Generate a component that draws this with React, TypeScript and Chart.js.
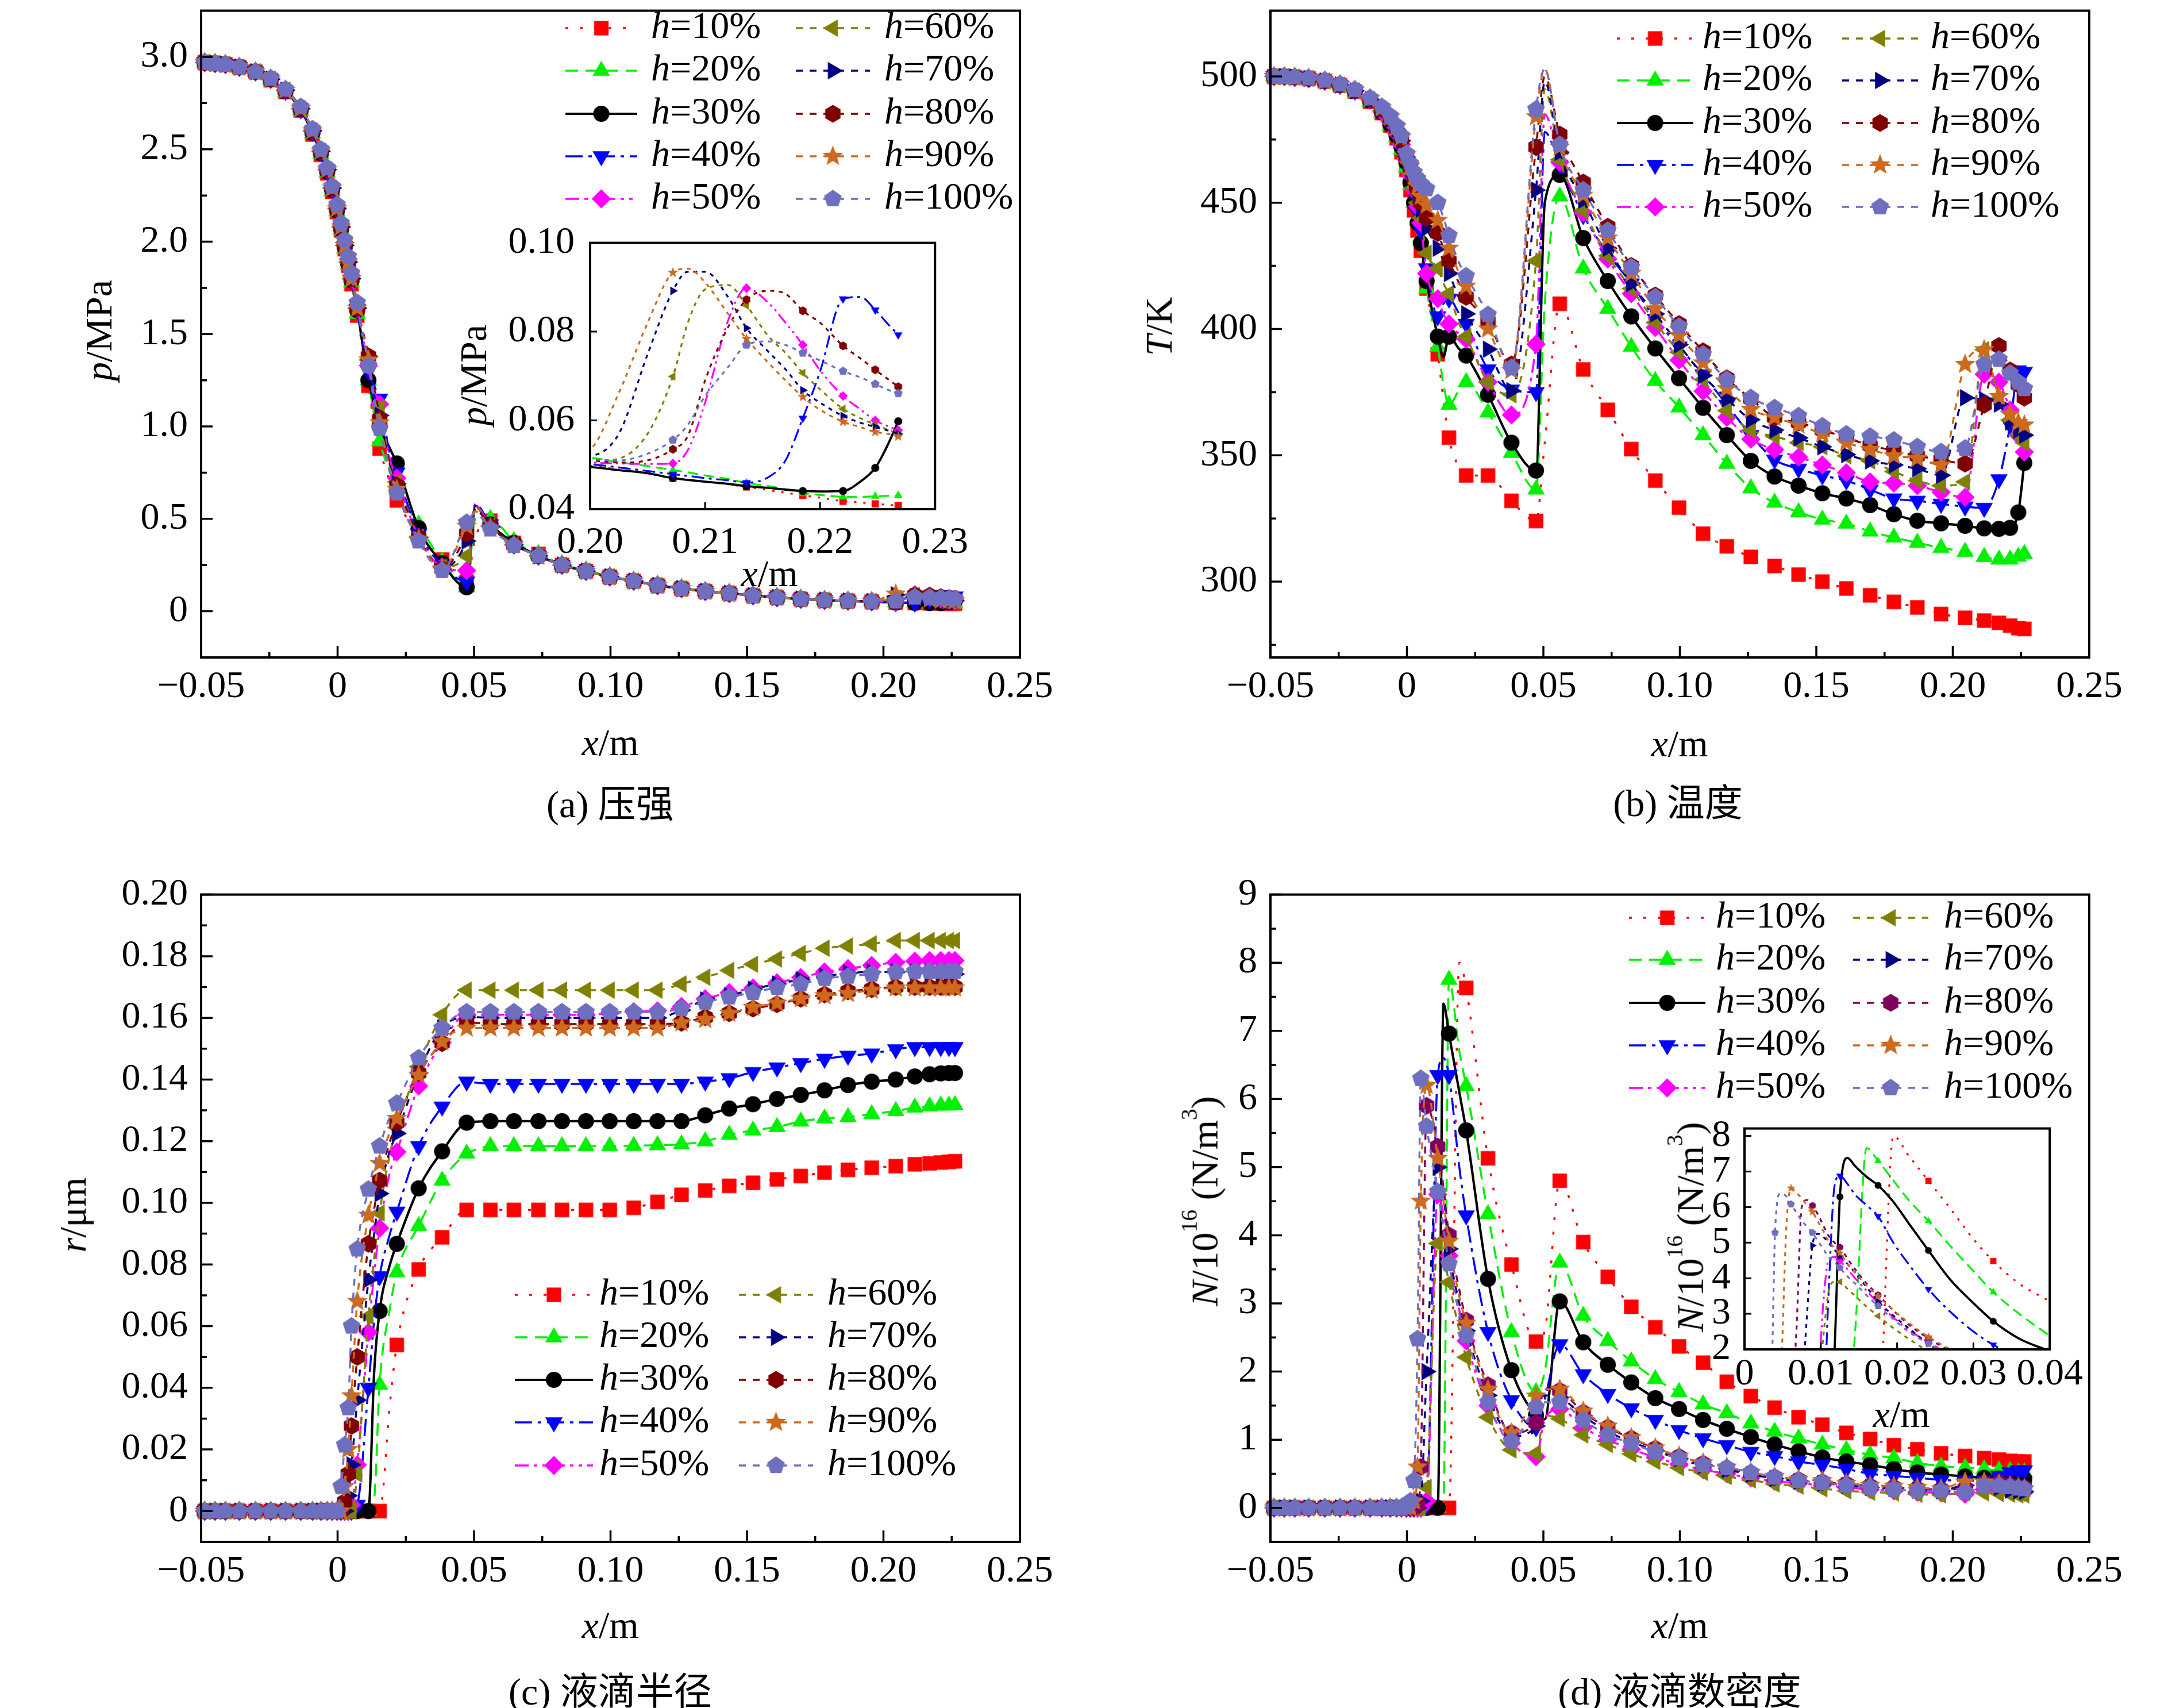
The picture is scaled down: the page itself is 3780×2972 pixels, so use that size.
import React, { useEffect, useRef } from 'react';
import { Chart, registerables } from 'chart.js';
Chart.register(...registerables);

const SERIF = '"Liberation Serif", "Times New Roman", serif';
const CAP_FONT = '"Liberation Serif", "Noto Sans CJK SC", serif';
const FS = 66;

// ---------------- series meta ----------------
const H_LABELS = ['10%', '20%', '30%', '40%', '50%', '60%', '70%', '80%', '90%', '100%'];
const COLORS = ['#ff0000', '#00f000', '#000000', '#0000ff', '#ff00ff', '#808000', '#000080', '#800000', '#cd6a1e', '#6f6fbf'];
const COLORS_D = ['#ff0000', '#00f000', '#000000', '#0000ff', '#ff00ff', '#808000', '#000080', '#800060', '#cd6a1e', '#6f6fbf'];
const SHAPES = ['square', 'triUp', 'circle', 'triDown', 'diamond', 'triLeft', 'triRight', 'hexagon', 'star', 'pentagon'];
const DASH_MAIN = [[5, 20], [22, 13], [], [30, 10, 6, 10], [24, 9, 6, 9, 6, 9], [12, 12], [12, 12], [12, 12], [12, 12], [12, 12]];
const DASH_INSET = [[4, 12], [18, 10], [], [22, 8, 5, 8], [20, 7, 4, 7, 4, 7], [7, 8], [7, 8], [7, 8], [7, 8], [7, 8]];

// ---------------- axes ----------------
const X_TICKS = [-0.05, 0, 0.05, 0.1, 0.15, 0.2, 0.25];
const X_TICK_LABELS = ['\u22120.05', '0', '0.05', '0.10', '0.15', '0.20', '0.25'];
const X_MINOR = [-0.025, 0.025, 0.075, 0.125, 0.175, 0.225];

const A_Y_TICKS = [0, 0.5, 1, 1.5, 2, 2.5, 3];
const A_Y_LABELS = ['0', '0.5', '1.0', '1.5', '2.0', '2.5', '3.0'];
const A_Y_MINOR = [0.25, 0.75, 1.25, 1.75, 2.25, 2.75];

const B_Y_TICKS = [300, 350, 400, 450, 500];
const B_Y_LABELS = ['300', '350', '400', '450', '500'];
const B_Y_MINOR = [275, 325, 375, 425, 475];

const C_Y_TICKS = [0, 0.02, 0.04, 0.06, 0.08, 0.1, 0.12, 0.14, 0.16, 0.18, 0.2];
const C_Y_LABELS = ['0', '0.02', '0.04', '0.06', '0.08', '0.10', '0.12', '0.14', '0.16', '0.18', '0.20'];
const C_Y_MINOR = [0.01, 0.03, 0.05, 0.07, 0.09, 0.11, 0.13, 0.15, 0.17, 0.19];

const D_Y_TICKS = [0, 1, 2, 3, 4, 5, 6, 7, 8, 9];
const D_Y_LABELS = ['0', '1', '2', '3', '4', '5', '6', '7', '8', '9'];
const D_Y_MINOR = [0.5, 1.5, 2.5, 3.5, 4.5, 5.5, 6.5, 7.5, 8.5];

const IA_X_TICKS = [0.2, 0.21, 0.22, 0.23];
const IA_X_LABELS = ['0.20', '0.21', '0.22', '0.23'];
const IA_Y_TICKS = [0.04, 0.06, 0.08, 0.1];
const IA_Y_LABELS = ['0.04', '0.06', '0.08', '0.10'];

const ID_X_TICKS = [0, 0.01, 0.02, 0.03, 0.04];
const ID_X_LABELS = ['0', '0.01', '0.02', '0.03', '0.04'];
const ID_Y_TICKS = [2, 3, 4, 5, 6, 7, 8];
const ID_Y_LABELS = ['2', '3', '4', '5', '6', '7', '8'];

// ---------------- main x grid (shared by panels a-d) ----------------
const GX = [
  -0.0487, -0.0449, -0.0411, -0.036, -0.0301, -0.0245, -0.0191, -0.0135, -0.0092, -0.0061,
  -0.0038, -0.002, -0.0002, 0.0013, 0.0026, 0.0039, 0.0051, 0.0072, 0.0113, 0.0134,
  0.0154, 0.0192, 0.0217, 0.0297, 0.0383, 0.0473, 0.0505, 0.056, 0.0646, 0.0736,
  0.0822, 0.091, 0.0997, 0.1085, 0.1172, 0.126, 0.1347, 0.1435, 0.1522, 0.161,
  0.1697, 0.1784, 0.187, 0.1957, 0.2045, 0.2115, 0.2169, 0.221, 0.224, 0.2262,
];
const MAIN_UNMARKED = [19, 21, 26];

// ---------------- (a) pressure, MPa ----------------
const A_10 = [2.97, 2.965, 2.96, 2.945, 2.92, 2.875, 2.81, 2.71, 2.58, 2.47, 2.37, 2.27, 2.16, 2.06, 1.96, 1.87, 1.77, 1.60, 1.22, 1.02, 0.88, 0.70, 0.60, 0.42, 0.28, 0.16, 0.40, 0.49, 0.37, 0.31, 0.25, 0.217, 0.187, 0.164, 0.14, 0.123, 0.108, 0.097, 0.085, 0.075, 0.066, 0.06, 0.056, 0.053, 0.047, 0.045, 0.0431, 0.0418, 0.0412, 0.0408];
const A_20 = [2.97, 2.965, 2.96, 2.945, 2.92, 2.875, 2.81, 2.71, 2.585, 2.475, 2.375, 2.275, 2.165, 2.065, 1.965, 1.875, 1.78, 1.61, 1.25, 1.06, 0.92, 0.75, 0.66, 0.47, 0.27, 0.13, 0.50, 0.50, 0.38, 0.31, 0.255, 0.22, 0.19, 0.165, 0.142, 0.124, 0.109, 0.098, 0.086, 0.076, 0.067, 0.061, 0.057, 0.054, 0.0488, 0.0459, 0.0436, 0.0428, 0.0429, 0.0431];
const A_30 = [2.97, 2.965, 2.96, 2.945, 2.92, 2.88, 2.815, 2.715, 2.59, 2.48, 2.38, 2.28, 2.17, 2.07, 1.97, 1.88, 1.79, 1.63, 1.25, 1.12, 1.0, 0.88, 0.80, 0.45, 0.26, 0.13, 0.57, 0.47, 0.37, 0.30, 0.25, 0.217, 0.187, 0.164, 0.14, 0.123, 0.108, 0.097, 0.085, 0.075, 0.066, 0.06, 0.055, 0.052, 0.047, 0.0452, 0.0441, 0.0441, 0.0493, 0.0598];
const A_40 = [2.97, 2.965, 2.96, 2.945, 2.92, 2.88, 2.815, 2.715, 2.595, 2.485, 2.385, 2.285, 2.175, 2.075, 1.975, 1.885, 1.795, 1.635, 1.30, 1.22, 1.15, 0.85, 0.75, 0.42, 0.25, 0.16, 0.58, 0.47, 0.36, 0.30, 0.25, 0.217, 0.187, 0.164, 0.14, 0.123, 0.108, 0.097, 0.085, 0.075, 0.066, 0.06, 0.056, 0.052, 0.0479, 0.046, 0.0605, 0.0874, 0.0849, 0.0793];
const A_50 = [2.97, 2.965, 2.96, 2.945, 2.92, 2.88, 2.82, 2.72, 2.60, 2.49, 2.39, 2.29, 2.18, 2.08, 1.98, 1.89, 1.80, 1.64, 1.33, 1.2, 1.12, 0.82, 0.72, 0.40, 0.24, 0.22, 0.57, 0.46, 0.36, 0.30, 0.25, 0.217, 0.187, 0.164, 0.14, 0.123, 0.108, 0.097, 0.085, 0.075, 0.066, 0.06, 0.056, 0.053, 0.0503, 0.0898, 0.077, 0.0655, 0.06, 0.0578];
const A_60 = [2.97, 2.965, 2.96, 2.945, 2.92, 2.88, 2.82, 2.72, 2.60, 2.49, 2.39, 2.29, 2.18, 2.08, 1.98, 1.89, 1.80, 1.64, 1.36, 1.2, 1.1, 0.80, 0.70, 0.40, 0.24, 0.30, 0.56, 0.46, 0.36, 0.30, 0.25, 0.217, 0.187, 0.164, 0.14, 0.123, 0.108, 0.097, 0.085, 0.075, 0.066, 0.06, 0.056, 0.053, 0.0699, 0.0859, 0.0707, 0.0626, 0.0591, 0.057];
const A_70 = [2.97, 2.965, 2.96, 2.945, 2.92, 2.88, 2.82, 2.72, 2.60, 2.49, 2.39, 2.29, 2.18, 2.08, 1.98, 1.89, 1.80, 1.64, 1.38, 1.2, 1.06, 0.79, 0.69, 0.40, 0.23, 0.38, 0.55, 0.46, 0.36, 0.30, 0.25, 0.217, 0.187, 0.164, 0.14, 0.123, 0.108, 0.097, 0.085, 0.075, 0.066, 0.06, 0.056, 0.053, 0.0892, 0.0808, 0.0668, 0.061, 0.0585, 0.057];
const A_80 = [2.97, 2.965, 2.96, 2.945, 2.92, 2.88, 2.82, 2.72, 2.60, 2.49, 2.39, 2.29, 2.18, 2.08, 1.98, 1.89, 1.80, 1.64, 1.38, 1.18, 1.04, 0.78, 0.68, 0.40, 0.23, 0.42, 0.55, 0.46, 0.36, 0.30, 0.25, 0.217, 0.187, 0.164, 0.14, 0.123, 0.108, 0.097, 0.085, 0.075, 0.066, 0.06, 0.056, 0.053, 0.0535, 0.0872, 0.0847, 0.0768, 0.0714, 0.0676];
const A_90 = [2.97, 2.965, 2.96, 2.945, 2.92, 2.88, 2.82, 2.72, 2.60, 2.49, 2.39, 2.29, 2.18, 2.08, 1.98, 1.89, 1.80, 1.64, 1.36, 1.16, 1.02, 0.77, 0.66, 0.39, 0.23, 0.46, 0.54, 0.45, 0.36, 0.30, 0.25, 0.217, 0.187, 0.164, 0.14, 0.123, 0.108, 0.097, 0.085, 0.075, 0.066, 0.06, 0.056, 0.053, 0.0933, 0.0784, 0.0653, 0.0597, 0.0574, 0.0564];
const A_100 = [2.97, 2.965, 2.96, 2.945, 2.92, 2.885, 2.825, 2.73, 2.61, 2.50, 2.40, 2.30, 2.20, 2.10, 2.01, 1.92, 1.83, 1.67, 1.33, 1.13, 0.99, 0.75, 0.64, 0.38, 0.22, 0.48, 0.53, 0.445, 0.357, 0.30, 0.25, 0.217, 0.187, 0.164, 0.14, 0.123, 0.108, 0.097, 0.085, 0.075, 0.066, 0.06, 0.056, 0.053, 0.0556, 0.077, 0.0752, 0.0711, 0.0682, 0.0661];

// ---------------- (a) inset ----------------
const IA_X = [0.196, 0.2, 0.2025, 0.205, 0.2072, 0.2085, 0.21, 0.212, 0.2136, 0.2155, 0.217, 0.2185, 0.22, 0.222, 0.2235, 0.2248, 0.2258, 0.2268];
const IA_MARKS = [4, 8, 11, 13, 15, 17];
const IA_10 = [0.0502, 0.0498, 0.0489, 0.048, 0.047, 0.0466, 0.0462, 0.0456, 0.045, 0.0443, 0.0437, 0.0431, 0.0426, 0.0418, 0.0415, 0.0412, 0.041, 0.0408];
const IA_20 = [0.052, 0.0516, 0.0506, 0.0497, 0.0488, 0.0483, 0.0476, 0.0468, 0.0459, 0.0452, 0.0445, 0.0436, 0.0432, 0.0428, 0.0428, 0.0429, 0.043, 0.0431];
const IA_30 = [0.0498, 0.0495, 0.0488, 0.0481, 0.047, 0.0466, 0.0462, 0.0457, 0.0452, 0.0448, 0.0444, 0.0441, 0.044, 0.0441, 0.0462, 0.0493, 0.054, 0.0598];
const IA_40 = [0.0503, 0.0501, 0.0494, 0.0486, 0.0479, 0.0475, 0.047, 0.0465, 0.046, 0.0472, 0.051, 0.0605, 0.071, 0.0874, 0.0878, 0.0849, 0.082, 0.0793];
const IA_50 = [0.0508, 0.0505, 0.0503, 0.0502, 0.0503, 0.0533, 0.064, 0.0825, 0.0898, 0.0865, 0.082, 0.077, 0.0713, 0.0655, 0.0625, 0.06, 0.0588, 0.0578];
const IA_60 = [0.0508, 0.0508, 0.0514, 0.057, 0.0699, 0.082, 0.0895, 0.0905, 0.0859, 0.079, 0.0752, 0.0707, 0.067, 0.0626, 0.0605, 0.0591, 0.058, 0.057];
const IA_70 = [0.0515, 0.052, 0.057, 0.0749, 0.0892, 0.0935, 0.0935, 0.0878, 0.0808, 0.0755, 0.0715, 0.0668, 0.064, 0.061, 0.0595, 0.0585, 0.0578, 0.057];
const IA_80 = [0.051, 0.051, 0.0505, 0.051, 0.0535, 0.0565, 0.069, 0.081, 0.0872, 0.0892, 0.0885, 0.0847, 0.082, 0.0768, 0.074, 0.0714, 0.0695, 0.0676];
const IA_90 = [0.051, 0.0535, 0.0662, 0.082, 0.0933, 0.0942, 0.0911, 0.084, 0.0784, 0.073, 0.069, 0.0653, 0.0624, 0.0597, 0.0585, 0.0574, 0.057, 0.0564];
const IA_100 = [0.0512, 0.0512, 0.051, 0.0525, 0.0556, 0.059, 0.0655, 0.072, 0.077, 0.0778, 0.077, 0.0752, 0.0735, 0.0711, 0.0697, 0.0682, 0.067, 0.0661];

// ---------------- (b) temperature, K ----------------
const B_10 = [500, 500, 499.7, 499.2, 498.2, 496.5, 494, 490, 485.5, 480.5, 475.5, 470, 463, 455, 447, 439, 431, 416, 390, 372, 357, 345, 342, 342, 332, 324, 355, 410, 384, 368, 352.5, 340, 329.3, 319, 314, 309.8, 306.2, 302.8, 300, 297.3, 294.6, 292, 289.8, 287.2, 285.7, 284.6, 283.7, 282.6, 281.6, 281.3];
const B_20 = [500, 500, 499.7, 499.2, 498.2, 496.5, 494, 490, 485.5, 480.5, 476, 471, 464, 457, 450, 443, 436, 416, 393, 378, 370, 376, 379, 367, 351, 336.5, 410, 452.5, 424, 408, 393, 379.5, 369, 358, 346.7, 337, 331.3, 327.5, 324.6, 323, 319.9, 317.5, 315.4, 313.4, 311.8, 309.8, 308.8, 308.8, 309.9, 311];
const B_30 = [500, 500, 499.7, 499.2, 498.2, 496.6, 494.2, 490.5, 485.8, 481, 476.5, 472, 466, 458, 450, 442, 434, 419, 397, 389, 397, 392, 389.5, 374, 355, 344, 450, 461, 436, 419, 405, 392.3, 380.5, 368.8, 358, 347.8, 341.6, 338, 335, 332.9, 330.3, 326.7, 324.1, 323.1, 322.1, 321.1, 320.9, 321.3, 327.4, 347];
const B_40 = [500, 500, 499.7, 499.2, 498.2, 496.6, 494.3, 490.8, 486, 481.5, 477, 472.5, 466.5, 460, 453.5, 446, 439, 424, 405, 410, 412, 406, 402, 384, 376, 375, 478, 465, 445, 430, 418, 404, 393, 382, 370, 358, 348.3, 344.7, 342, 340, 336.4, 332.9, 332, 330.8, 329.7, 329.2, 340.5, 362, 383.6, 383];
const B_50 = [500, 500, 499.7, 499.2, 498.2, 496.6, 494.3, 490.8, 486, 482, 477.5, 473, 467, 461, 455, 448.5, 442, 422, 412, 406, 402, 398, 396, 379, 366, 394, 485, 466, 446, 427.7, 414, 400.6, 387.7, 375.4, 365, 356.4, 352.3, 349.3, 346.2, 343.1, 339.5, 339, 338, 335.4, 333.4, 382.1, 379, 368, 358, 351.3];
const B_60 = [500, 500, 499.7, 499.2, 498.2, 496.6, 494.3, 490.8, 486.5, 482.5, 478, 473.5, 467.5, 462, 456, 450, 444, 430, 424, 418, 414, 402, 397, 379, 374, 427, 495, 467, 447, 429, 416, 402.6, 390.8, 380, 367.7, 360, 357.5, 355, 353.4, 349.8, 347.8, 343.6, 340, 338, 339.5, 391.8, 372.4, 364, 358, 355];
const B_70 = [500, 500, 499.7, 499.2, 498.2, 496.6, 494.3, 490.8, 487, 483, 479, 474.5, 468, 463, 458, 453, 447.5, 440, 432, 427, 422, 412, 406, 392, 375.6, 455, 498, 470, 451, 432, 418, 406, 393.8, 381.6, 372.4, 364.1, 360, 356.9, 353.4, 350.3, 347.8, 346.2, 344.7, 342.1, 372.8, 372, 370.3, 363.2, 360, 358];
const B_80 = [500, 500, 499.7, 499.2, 498.2, 496.7, 494.5, 491, 487, 483.5, 479.5, 475, 468.5, 464, 459.5, 455, 450, 444, 438, 432, 427, 418, 412.7, 403, 386, 472, 500, 477, 458, 440.5, 425, 413.3, 402, 391.2, 380.5, 372.4, 365, 363, 360, 357, 353.9, 351.9, 349.8, 348.3, 346.7, 370, 393.3, 383.6, 378, 372.8];
const B_90 = [500, 500, 499.7, 499.2, 498.2, 496.8, 494.6, 491.2, 487.5, 484, 480, 476, 469, 464.5, 460.5, 456.5, 452.5, 449, 443, 438, 432, 422, 417, 400, 383.6, 484, 503, 472, 453, 436, 422, 408, 397.4, 386.6, 376.4, 368.2, 365, 362, 358.5, 355, 352.3, 349.8, 348.8, 346.2, 386, 391.8, 373.3, 366.2, 363, 362];
const B_100 = [500, 500, 499.8, 499.4, 498.5, 497, 494.8, 491.5, 488, 484.4, 480.5, 476.5, 469.5, 465.5, 462, 459.5, 457.5, 455.5, 450, 444, 437, 426, 421, 405.7, 384.7, 487, 503, 473, 455, 439, 424.5, 412.7, 401, 390, 380, 372.8, 368.8, 365.6, 361.6, 358.4, 357.5, 356, 353.4, 351.4, 352.8, 386, 388, 382.5, 379, 376.4];

// ---------------- (c) droplet radius, um ----------------
const C_10 = [0, 0, 0, 0, 0, 0, 0, 0, 0, 0, 0, 0, 0, 0, 0, 0, 0, 0, 0, 0, 0, 0.035, 0.0539, 0.0784, 0.0888, 0.0977, 0.0977, 0.0977, 0.0977, 0.0977, 0.0977, 0.0977, 0.0977, 0.0984, 0.1003, 0.1026, 0.104, 0.1055, 0.1065, 0.1076, 0.1087, 0.1098, 0.1107, 0.1114, 0.1119, 0.1125, 0.1128, 0.1131, 0.1133, 0.1135];
const C_20 = [0, 0, 0, 0, 0, 0, 0, 0, 0, 0, 0, 0, 0, 0, 0, 0, 0, 0, 0, 0.004, 0.041, 0.066, 0.0775, 0.0925, 0.1072, 0.116, 0.1172, 0.1184, 0.1184, 0.1184, 0.1184, 0.1184, 0.1184, 0.1185, 0.1187, 0.119, 0.12, 0.1221, 0.1235, 0.1246, 0.1264, 0.1274, 0.1278, 0.1288, 0.1298, 0.1309, 0.1313, 0.1316, 0.1316, 0.1317];
const C_30 = [0, 0, 0, 0, 0, 0, 0, 0, 0, 0, 0, 0, 0, 0, 0, 0, 0, 0, 0, 0.045, 0.0649, 0.08, 0.0867, 0.1047, 0.1167, 0.126, 0.1263, 0.1265, 0.1265, 0.1265, 0.1265, 0.1265, 0.1265, 0.1265, 0.1265, 0.1265, 0.1284, 0.1306, 0.132, 0.1337, 0.135, 0.1365, 0.1382, 0.1393, 0.14, 0.141, 0.1417, 0.142, 0.1421, 0.1421];
const C_40 = [0, 0, 0, 0, 0, 0, 0, 0, 0, 0, 0, 0, 0, 0, 0, 0, 0, 0.002, 0.04, 0.062, 0.0762, 0.09, 0.0971, 0.1184, 0.1312, 0.1393, 0.139, 0.1386, 0.1386, 0.1386, 0.1386, 0.1386, 0.1386, 0.1386, 0.1386, 0.1386, 0.1393, 0.1404, 0.1424, 0.1439, 0.1453, 0.1467, 0.1477, 0.1484, 0.1498, 0.1505, 0.1505, 0.1505, 0.1505, 0.1505];
const C_50 = [0, 0, 0, 0, 0, 0, 0, 0, 0, 0, 0, 0, 0, 0, 0, 0, 0.002, 0.015, 0.058, 0.077, 0.0918, 0.11, 0.1165, 0.1379, 0.152, 0.161, 0.161, 0.161, 0.161, 0.161, 0.161, 0.161, 0.1615, 0.162, 0.1623, 0.1637, 0.1662, 0.1682, 0.1697, 0.1714, 0.1731, 0.1749, 0.176, 0.177, 0.178, 0.1784, 0.1786, 0.1786, 0.1786, 0.1786];
const C_60 = [0, 0, 0, 0, 0, 0, 0, 0, 0, 0, 0, 0, 0, 0, 0, 0, 0, 0.012, 0.0632, 0.082, 0.0967, 0.116, 0.1244, 0.1442, 0.161, 0.169, 0.169, 0.169, 0.169, 0.169, 0.169, 0.169, 0.169, 0.169, 0.169, 0.171, 0.1732, 0.1754, 0.1774, 0.1791, 0.1809, 0.1826, 0.1833, 0.184, 0.1851, 0.1851, 0.1851, 0.1851, 0.1851, 0.1851];
const C_70 = [0, 0, 0, 0, 0, 0, 0, 0, 0, 0, 0, 0, 0, 0, 0, 0.005, 0.015, 0.036, 0.0751, 0.09, 0.103, 0.117, 0.1225, 0.1421, 0.1567, 0.1602, 0.1602, 0.16, 0.16, 0.16, 0.16, 0.16, 0.16, 0.16, 0.16, 0.1625, 0.1658, 0.1672, 0.1693, 0.171, 0.1724, 0.1735, 0.1745, 0.1749, 0.1749, 0.1748, 0.1746, 0.1744, 0.1743, 0.1742];
const C_80 = [0, 0, 0, 0, 0, 0, 0, 0, 0, 0, 0, 0, 0, 0, 0.003, 0.012, 0.0276, 0.05, 0.0867, 0.098, 0.1072, 0.12, 0.126, 0.1421, 0.1518, 0.1584, 0.1584, 0.158, 0.158, 0.158, 0.158, 0.158, 0.158, 0.158, 0.158, 0.1584, 0.1602, 0.1615, 0.163, 0.1644, 0.1662, 0.1676, 0.1686, 0.1693, 0.17, 0.17, 0.17, 0.17, 0.17, 0.17];
const C_90 = [0, 0, 0, 0, 0, 0, 0, 0, 0, 0, 0, 0, 0, 0, 0.008, 0.02, 0.0374, 0.068, 0.096, 0.105, 0.1128, 0.123, 0.1274, 0.1414, 0.1523, 0.1567, 0.1567, 0.1567, 0.1567, 0.1567, 0.1567, 0.1567, 0.1567, 0.1567, 0.1567, 0.1584, 0.1595, 0.1615, 0.1634, 0.1648, 0.1662, 0.1672, 0.1679, 0.169, 0.1697, 0.1697, 0.1697, 0.1697, 0.1697, 0.1697];
const C_100 = [0, 0, 0, 0, 0, 0, 0, 0, 0, 0, 0, 0, 0, 0.008, 0.0214, 0.0335, 0.06, 0.085, 0.1044, 0.112, 0.1184, 0.128, 0.1323, 0.147, 0.1567, 0.1619, 0.1619, 0.1619, 0.1619, 0.1619, 0.1619, 0.1619, 0.1619, 0.1619, 0.1619, 0.163, 0.1651, 0.1668, 0.1682, 0.1699, 0.171, 0.1728, 0.1735, 0.1742, 0.1749, 0.1751, 0.1751, 0.1751, 0.1751, 0.1751];

// ---------------- (d) droplet number density, 1e16 ----------------
const D_10 = [0, 0, 0, 0, 0, 0, 0, 0, 0, 0, 0, 0, 0, 0, 0, 0, 0, 0, 0, 0, 0, 8.0, 7.63, 5.13, 3.57, 2.44, 2.6, 4.8, 3.9, 3.39, 2.95, 2.65, 2.37, 2.13, 1.85, 1.64, 1.47, 1.33, 1.22, 1.1, 1.01, 0.92, 0.86, 0.8, 0.76, 0.73, 0.71, 0.69, 0.68, 0.68];
const D_20 = [0, 0, 0, 0, 0, 0, 0, 0, 0, 0, 0, 0, 0, 0, 0, 0, 0, 0, 0, 0.1, 7.75, 6.7, 6.19, 4.31, 2.58, 1.7, 2.0, 3.6, 2.82, 2.45, 2.15, 1.89, 1.7, 1.52, 1.39, 1.24, 1.12, 1.02, 0.93, 0.85, 0.78, 0.73, 0.66, 0.61, 0.59, 0.57, 0.55, 0.54, 0.52, 0.52];
const D_30 = [0, 0, 0, 0, 0, 0, 0, 0, 0, 0, 0, 0, 0, 0, 0, 0, 0, 0, 0, 7.4, 6.96, 6.1, 5.54, 3.36, 2.02, 1.36, 1.3, 3.03, 2.43, 2.1, 1.84, 1.61, 1.45, 1.29, 1.16, 1.04, 0.93, 0.83, 0.74, 0.68, 0.63, 0.57, 0.52, 0.49, 0.46, 0.44, 0.43, 0.42, 0.42, 0.42];
const D_40 = [0, 0, 0, 0, 0, 0, 0, 0, 0, 0, 0, 0, 0, 0, 0, 0, 0, 0.05, 6.35, 6.6, 6.35, 5.0, 4.29, 2.58, 1.58, 1.18, 1.6, 2.4, 1.96, 1.67, 1.46, 1.29, 1.14, 1.02, 0.92, 0.82, 0.76, 0.68, 0.63, 0.57, 0.5, 0.47, 0.44, 0.41, 0.4, 0.4, 0.47, 0.52, 0.55, 0.55];
const D_50 = [0, 0, 0, 0, 0, 0, 0, 0, 0, 0, 0, 0, 0, 0, 0, 0, 0, 0.1, 4.6, 4.3, 3.7, 2.9, 2.45, 1.5, 0.95, 0.75, 1.3, 1.45, 1.18, 1.0, 0.86, 0.74, 0.64, 0.56, 0.5, 0.44, 0.39, 0.36, 0.33, 0.3, 0.27, 0.25, 0.23, 0.22, 0.2, 0.27, 0.28, 0.26, 0.24, 0.23];
const D_60 = [0, 0, 0, 0, 0, 0, 0, 0, 0, 0, 0, 0, 0, 0, 0, 0, 0, 0.3, 3.88, 3.7, 3.31, 2.6, 2.21, 1.33, 0.85, 0.8, 1.35, 1.31, 1.07, 0.93, 0.79, 0.68, 0.59, 0.52, 0.46, 0.41, 0.35, 0.32, 0.28, 0.25, 0.23, 0.22, 0.2, 0.19, 0.22, 0.22, 0.21, 0.2, 0.19, 0.19];
const D_70 = [0, 0, 0, 0, 0, 0, 0, 0, 0, 0, 0, 0, 0, 0, 0, 0, 0.1, 2.0, 5.0, 4.6, 3.8, 3.0, 2.6, 1.65, 1.05, 1.2, 1.65, 1.62, 1.35, 1.12, 0.97, 0.84, 0.72, 0.62, 0.56, 0.49, 0.43, 0.39, 0.36, 0.33, 0.3, 0.28, 0.26, 0.25, 0.33, 0.33, 0.3, 0.26, 0.25, 0.24];
const D_80 = [0, 0, 0, 0, 0, 0, 0, 0, 0, 0, 0, 0, 0, 0, 0, 0.05, 0.6, 5.9, 5.3, 4.7, 4.0, 3.2, 2.75, 1.8, 1.1, 1.25, 1.75, 1.72, 1.4, 1.18, 1.02, 0.87, 0.75, 0.65, 0.58, 0.51, 0.45, 0.41, 0.38, 0.35, 0.32, 0.3, 0.28, 0.27, 0.28, 0.36, 0.37, 0.34, 0.31, 0.3];
const D_90 = [0, 0, 0, 0, 0, 0, 0, 0, 0, 0, 0, 0, 0, 0, 0.1, 0.6, 4.5, 6.2, 5.13, 4.5, 3.91, 3.1, 2.71, 1.74, 1.1, 1.64, 1.74, 1.74, 1.42, 1.2, 1.03, 0.88, 0.76, 0.66, 0.6, 0.52, 0.46, 0.42, 0.4, 0.36, 0.33, 0.32, 0.3, 0.28, 0.38, 0.38, 0.35, 0.32, 0.3, 0.28];
const D_100 = [0, 0, 0, 0, 0, 0, 0, 0, 0, 0, 0, 0, 0.02, 0.1, 0.4, 2.48, 6.3, 5.6, 4.64, 4.1, 3.58, 2.85, 2.53, 1.55, 0.98, 1.48, 1.55, 1.55, 1.29, 1.07, 0.95, 0.82, 0.73, 0.63, 0.59, 0.52, 0.45, 0.4, 0.37, 0.33, 0.3, 0.27, 0.25, 0.25, 0.23, 0.32, 0.33, 0.31, 0.29, 0.28];

// ---------------- (d) inset ----------------
const ID_X = [0, 0.0025, 0.0035, 0.004, 0.0047, 0.0055, 0.0061, 0.0068, 0.0075, 0.0082, 0.0089, 0.0096, 0.0104, 0.011, 0.0118, 0.0125, 0.0135, 0.0145, 0.016, 0.0175, 0.0195, 0.0215, 0.0241, 0.027, 0.03, 0.0326, 0.036, 0.04];
const ID_MARKS = [3, 6, 10, 15, 19, 22, 25];
const ID_10 = [0, 0, 0, 0, 0, 0, 0, 0, 0, 0, 0, 0, 0, 0, 0, 0, 0, 0, 0, 0, 8.0, 7.45, 6.74, 5.95, 5.1, 4.48, 3.85, 3.35];
const ID_20 = [0, 0, 0, 0, 0, 0, 0, 0, 0, 0, 0, 0, 0, 0, 0, 0, 0, 2.5, 7.66, 7.3, 6.75, 6.2, 5.61, 4.9, 4.2, 3.61, 3.0, 2.38];
const ID_30 = [0, 0, 0, 0, 0, 0, 0, 0, 0, 0, 0, 0, 0, 0.2, 2.0, 6.29, 7.38, 7.15, 6.85, 6.61, 6.15, 5.55, 4.78, 3.95, 3.3, 2.79, 2.3, 1.95];
const ID_40 = [0, 0, 0, 0, 0, 0, 0, 0, 0.05, 0.05, 0.1, 0.1, 0.5, 3.5, 6.6, 6.88, 6.65, 6.35, 6.05, 5.74, 5.0, 4.4, 3.69, 3.05, 2.5, 2.13, 1.75, 1.45];
const ID_50 = [0, 0, 0, 0, 0, 0, 0.05, 0.1, 0.1, 0.15, 0.2, 1.0, 3.5, 4.5, 4.6, 4.49, 4.25, 4.0, 3.65, 3.3, 2.9, 2.55, 2.2, 1.85, 1.6, 1.4, 1.2, 1.05];
const ID_60 = [0, 0, 0, 0, 0, 0, 0.05, 0.1, 0.1, 0.2, 0.3, 0.8, 2.5, 3.6, 3.9, 3.9, 3.7, 3.5, 3.2, 2.94, 2.6, 2.3, 1.95, 1.65, 1.4, 1.25, 1.1, 0.95];
const ID_70 = [0, 0, 0, 0, 0.05, 0.1, 0.2, 0.3, 0.8, 3.0, 4.92, 5.25, 5.15, 5.0, 4.8, 4.62, 4.4, 4.15, 3.75, 3.35, 2.95, 2.6, 2.16, 1.8, 1.55, 1.35, 1.15, 1.0];
const ID_80 = [0, 0, 0, 0.05, 0.1, 0.2, 0.5, 2.5, 6.0, 6.2, 6.04, 5.8, 5.45, 5.2, 5.0, 4.87, 4.55, 4.25, 3.85, 3.53, 3.1, 2.7, 2.31, 1.95, 1.65, 1.45, 1.25, 1.05];
const ID_90 = [0, 0.05, 0.1, 0.3, 1.0, 5.5, 6.53, 6.4, 6.25, 6.05, 5.87, 5.6, 5.3, 5.05, 4.85, 4.71, 4.4, 4.15, 3.8, 3.5, 3.1, 2.75, 2.35, 2.0, 1.7, 1.5, 1.3, 1.1];
const ID_100 = [0, 0.1, 1.0, 5.28, 6.38, 6.3, 6.08, 5.85, 5.62, 5.45, 5.28, 5.05, 4.8, 4.6, 4.45, 4.29, 4.05, 3.85, 3.52, 3.22, 2.85, 2.5, 2.16, 1.85, 1.6, 1.4, 1.2, 1.05];

// ---------------- types ----------------
type Axis = { min: number; max: number; ticks: number[]; labels: string[]; marks: number[]; minor: number[] };
type Legend = { rows: number[]; cols: { l0: number; l1: number; tx: number }[] };
type Panel = {
  id: string; L: number; T: number; R: number; B: number;
  yW: number; xH: number; padR: number; padT: number;
  x: Axis; y: Axis; xPad: number; yPad: number;
  xs: number[]; series: number[][]; marked: boolean[];
  colors: string[]; dashes: number[][]; r: number; lineW: number;
  tickLen: number; minorLen: number; frameW: number; tickW: number;
  inset: boolean; legend?: Legend;
};

// ---------------- markers ----------------
const markerCache = new Map<string, HTMLCanvasElement>();
function marker(shape: string, color: string, r: number): HTMLCanvasElement {
  const key = shape + color + r;
  const hit = markerCache.get(key);
  if (hit) return hit;
  const size = Math.ceil(r * 2.8 + 4);
  const c = document.createElement('canvas');
  c.width = size; c.height = size;
  const g = c.getContext('2d') as CanvasRenderingContext2D;
  g.translate(size / 2, size / 2);
  g.fillStyle = color;
  g.beginPath();
  const poly = (n: number, R: number, rot: number) => {
    for (let k = 0; k < n; k++) {
      const a = rot + (k * 2 * Math.PI) / n;
      const px = R * Math.cos(a), py = R * Math.sin(a);
      if (k === 0) g.moveTo(px, py); else g.lineTo(px, py);
    }
    g.closePath();
  };
  switch (shape) {
    case 'square': g.rect(-0.9 * r, -0.9 * r, 1.8 * r, 1.8 * r); break;
    case 'circle': g.arc(0, 0, r, 0, Math.PI * 2); break;
    case 'triUp': poly(3, 1.25 * r, -Math.PI / 2); break;
    case 'triDown': poly(3, 1.25 * r, Math.PI / 2); break;
    case 'triLeft': poly(3, 1.25 * r, Math.PI); break;
    case 'triRight': poly(3, 1.25 * r, 0); break;
    case 'diamond': poly(4, 1.2 * r, -Math.PI / 2); break;
    case 'hexagon': poly(6, 1.1 * r, -Math.PI / 2); break;
    case 'pentagon': poly(5, 1.15 * r, -Math.PI / 2); break;
    case 'star': {
      for (let k = 0; k < 10; k++) {
        const a = -Math.PI / 2 + (k * Math.PI) / 5;
        const R = k % 2 === 0 ? 1.35 * r : 0.58 * r;
        if (k === 0) g.moveTo(R * Math.cos(a), R * Math.sin(a)); else g.lineTo(R * Math.cos(a), R * Math.sin(a));
      }
      g.closePath();
      break;
    }
  }
  g.fill();
  markerCache.set(key, c);
  return c;
}

// ---------------- panels ----------------
const MAIN_MARKED = GX.map((_, i) => MAIN_UNMARKED.indexOf(i) < 0);
const IA_MARKED = IA_X.map((_, i) => IA_MARKS.indexOf(i) >= 0);
const ID_MARKED = ID_X.map((_, i) => ID_MARKS.indexOf(i) >= 0);

const X_MAIN: Axis = { min: -0.05, max: 0.25, ticks: X_TICKS, labels: X_TICK_LABELS, marks: X_TICKS, minor: X_MINOR };
const MAIN_COMMON = {
  yW: 300, xH: 110, padR: 80, padT: 50, xPad: 12, yPad: 23, xs: GX, marked: MAIN_MARKED,
  dashes: DASH_MAIN, r: 14, lineW: 3.5, tickLen: 20, minorLen: 10, frameW: 4, tickW: 3.5, inset: false,
};
const INSET_COMMON = {
  yW: 160, xH: 90, padR: 60, padT: 45, dashes: DASH_INSET, lineW: 3.2,
  tickLen: 12, minorLen: 0, frameW: 4, tickW: 3, inset: true,
};

const PANELS: Panel[] = [
  {
    ...MAIN_COMMON, id: 'a', L: 350, T: 6, R: 1775, B: 1144, x: X_MAIN,
    y: { min: -0.25, max: 3.25, ticks: A_Y_TICKS, labels: A_Y_LABELS, marks: A_Y_TICKS, minor: A_Y_MINOR },
    series: [A_10, A_20, A_30, A_40, A_50, A_60, A_70, A_80, A_90, A_100], colors: COLORS,
    legend: { rows: [49, 123, 198, 272, 346], cols: [{ l0: 984, l1: 1109, tx: 1133 }, { l0: 1385, l1: 1514, tx: 1539 }] },
  },
  {
    ...MAIN_COMMON, id: 'b', L: 2211, T: 6, R: 3636, B: 1144, x: X_MAIN,
    y: { min: 270, max: 526, ticks: B_Y_TICKS, labels: B_Y_LABELS, marks: B_Y_TICKS, minor: B_Y_MINOR },
    series: [B_10, B_20, B_30, B_40, B_50, B_60, B_70, B_80, B_90, B_100], colors: COLORS,
    legend: { rows: [67, 140, 214, 287, 360], cols: [{ l0: 2814, l1: 2947, tx: 2963 }, { l0: 3206, l1: 3338, tx: 3360 }] },
  },
  {
    ...MAIN_COMMON, id: 'c', L: 350, T: 1544, R: 1775, B: 2683, x: X_MAIN,
    y: { min: -0.01, max: 0.2, ticks: C_Y_TICKS, labels: C_Y_LABELS, marks: C_Y_TICKS, minor: C_Y_MINOR },
    series: [C_10, C_20, C_30, C_40, C_50, C_60, C_70, C_80, C_90, C_100], colors: COLORS,
    legend: { rows: [2253, 2327, 2401, 2475, 2550], cols: [{ l0: 896, l1: 1032, tx: 1043 }, { l0: 1286, l1: 1415, tx: 1440 }] },
  },
  {
    ...MAIN_COMMON, id: 'd', L: 2211, T: 1544, R: 3636, B: 2683, x: X_MAIN,
    y: { min: -0.5, max: 9, ticks: D_Y_TICKS, labels: D_Y_LABELS, marks: D_Y_TICKS, minor: D_Y_MINOR },
    series: [D_10, D_20, D_30, D_40, D_50, D_60, D_70, D_80, D_90, D_100], colors: COLORS_D,
    legend: { rows: [1597, 1670, 1745, 1819, 1893], cols: [{ l0: 2835, l1: 2968, tx: 2986 }, { l0: 3225, l1: 3356, tx: 3383 }] },
  },
  {
    ...INSET_COMMON, id: 'ia', L: 1027, T: 401, R: 1644, B: 886, xPad: 19, yPad: 27, r: 7,
    x: { min: 0.2, max: 0.23, ticks: IA_X_TICKS, labels: IA_X_LABELS, marks: IA_X_TICKS, minor: [] },
    y: { min: 0.04, max: 0.1, ticks: IA_Y_TICKS, labels: IA_Y_LABELS, marks: IA_Y_TICKS, minor: [] },
    xs: IA_X, marked: IA_MARKED, colors: COLORS,
    series: [IA_10, IA_20, IA_30, IA_40, IA_50, IA_60, IA_70, IA_80, IA_90, IA_100],
  },
  {
    ...INSET_COMMON, id: 'id', L: 3036, T: 1945, R: 3569, B: 2348, xPad: 4, yPad: 24, r: 6,
    x: { min: 0, max: 0.04, ticks: ID_X_TICKS, labels: ID_X_LABELS, marks: ID_X_TICKS, minor: [] },
    y: { min: 2, max: 8.21, ticks: ID_Y_TICKS, labels: ID_Y_LABELS, marks: ID_Y_TICKS, minor: [] },
    xs: ID_X, marked: ID_MARKED, colors: COLORS_D,
    series: [ID_10, ID_20, ID_30, ID_40, ID_50, ID_60, ID_70, ID_80, ID_90, ID_100],
  },
];

function buildChart(canvas: HTMLCanvasElement, p: Panel) {
  const left = p.L - p.yW;
  const top = p.T - p.padT;
  const deco = {
    id: 'deco_' + p.id,
    beforeDraw(chart: any) {
      if (!p.inset) return;
      const a = chart.chartArea, c = chart.ctx;
      c.save();
      c.fillStyle = '#ffffff';
      c.fillRect(a.left, a.top, a.right - a.left, a.bottom - a.top);
      c.restore();
    },
    afterDraw(chart: any) {
      const a = chart.chartArea, c = chart.ctx, sx = chart.scales.x, sy = chart.scales.y;
      c.save();
      c.setLineDash([]);
      c.strokeStyle = '#000';
      c.lineWidth = p.tickW;
      c.beginPath();
      p.x.marks.forEach((v) => { const px = sx.getPixelForValue(v); c.moveTo(px, a.bottom); c.lineTo(px, a.bottom - p.tickLen); });
      p.x.minor.forEach((v) => { const px = sx.getPixelForValue(v); c.moveTo(px, a.bottom); c.lineTo(px, a.bottom - p.minorLen); });
      p.y.marks.forEach((v) => { const py = sy.getPixelForValue(v); c.moveTo(a.left, py); c.lineTo(a.left + p.tickLen, py); });
      p.y.minor.forEach((v) => { const py = sy.getPixelForValue(v); c.moveTo(a.left, py); c.lineTo(a.left + p.minorLen, py); });
      c.stroke();
      c.lineWidth = p.frameW;
      c.strokeRect(a.left, a.top, a.right - a.left, a.bottom - a.top);
      if (p.legend) {
        const lg = p.legend;
        H_LABELS.forEach((lab, i) => {
          const col = lg.cols[Math.floor(i / 5)];
          const y = lg.rows[i % 5] - top;
          const l0 = col.l0 - left, l1 = col.l1 - left, tx = col.tx - left;
          c.strokeStyle = p.colors[i];
          c.lineWidth = i === 2 ? p.lineW * 1.2 : p.lineW;
          c.setLineDash(p.dashes[i]);
          c.beginPath(); c.moveTo(l0, y); c.lineTo(l1, y); c.stroke();
          c.setLineDash([]);
          const img = marker(SHAPES[i], p.colors[i], p.r);
          c.drawImage(img, (l0 + l1) / 2 - img.width / 2, y - img.height / 2);
          c.fillStyle = '#000';
          c.textBaseline = 'middle';
          c.textAlign = 'left';
          c.font = `italic ${FS}px ${SERIF}`;
          c.fillText('h', tx, y);
          const w = c.measureText('h').width;
          c.font = `${FS}px ${SERIF}`;
          c.fillText('=' + lab, tx + w, y);
        });
      }
      c.restore();
    },
  };

  const datasets = p.series.map((vals, i) => ({
    label: 'h=' + H_LABELS[i],
    data: p.xs.map((x, j) => ({ x, y: vals[j] })),
    borderColor: p.colors[i],
    backgroundColor: p.colors[i],
    borderWidth: i === 2 ? p.lineW * 1.2 : p.lineW,
    borderDash: p.dashes[i],
    pointStyle: marker(SHAPES[i], p.colors[i], p.r),
    pointRadius: (ctx: any) => (p.marked[ctx.dataIndex] ? p.r : 0),
    pointHoverRadius: 0,
    pointBorderWidth: 0,
    cubicInterpolationMode: 'monotone',
    fill: false,
    order: 9 - i,
    ...(p.inset ? {} : { clip: 30 }),
  }));

  const font = { family: SERIF, size: FS };
  return new Chart(canvas, {
    type: 'line',
    data: { datasets } as any,
    options: {
      responsive: false,
      animation: false,
      devicePixelRatio: 1,
      events: [],
      layout: { padding: { left: 0, right: p.padR, top: p.padT, bottom: 0 } },
      plugins: { legend: { display: false }, tooltip: { enabled: false } },
      scales: {
        x: {
          type: 'linear', min: p.x.min, max: p.x.max, bounds: 'data',
          grid: { display: false, drawTicks: false }, border: { display: false },
          ticks: { font, color: '#000', padding: p.xPad, maxRotation: 0, minRotation: 0, autoSkip: false,
            callback: (_v: any, idx: number) => p.x.labels[idx] },
          afterBuildTicks: (ax: any) => { ax.ticks = p.x.ticks.map((v) => ({ value: v })); },
          afterFit: (ax: any) => { ax.height = p.xH; },
        },
        y: {
          type: 'linear', min: p.y.min, max: p.y.max, bounds: 'data',
          grid: { display: false, drawTicks: false }, border: { display: false },
          ticks: { font, color: '#000', padding: p.yPad, autoSkip: false,
            callback: (_v: any, idx: number) => p.y.labels[idx] },
          afterBuildTicks: (ax: any) => { ax.ticks = p.y.ticks.map((v) => ({ value: v })); },
          afterFit: (ax: any) => { ax.width = p.yW; },
        },
      },
    } as any,
    plugins: [deco],
  });
}

function PanelView({ p }: { p: Panel }) {
  const ref = useRef<HTMLCanvasElement>(null);
  const w = p.R - p.L + p.yW + p.padR;
  const h = p.padT + (p.B - p.T) + p.xH;
  useEffect(() => {
    if (!ref.current) return;
    const ch = buildChart(ref.current, p);
    return () => ch.destroy();
  }, [p]);
  return (
    <canvas ref={ref} width={w} height={h}
      style={{ position: 'absolute', left: p.L - p.yW, top: p.T - p.padT, width: w, height: h }} />
  );
}

function Txt({ x, y, rot, font, children }: { x: number; y: number; rot?: boolean; font?: string; children: any }) {
  return (
    <div style={{
      position: 'absolute', left: x, top: y,
      transform: `translate(-50%, -50%)${rot ? ' rotate(-90deg)' : ''}`,
      fontFamily: font || SERIF, fontSize: FS, lineHeight: 1, whiteSpace: 'nowrap', color: '#000',
    }}>{children}</div>
  );
}

const SUP = { fontSize: '0.6em', verticalAlign: '0.9em' } as const;
const XM = <><i>x</i>/m</>;
const NLABEL = <><i>N</i>/10<span style={SUP}>16</span> (N/m<span style={SUP}>3</span>)</>;

export default function App() {
  useEffect(() => { document.body.style.margin = '0'; }, []);
  return (
    <div style={{ position: 'absolute', left: 0, top: 0, width: 3780, height: 2972, background: '#fff', overflow: 'hidden' }}>
      {PANELS.map((p) => <PanelView key={p.id} p={p} />)}
      <Txt x={172} y={575} rot><i>p</i>/MPa</Txt>
      <Txt x={1062} y={1292}>{XM}</Txt>
      <Txt x={1062} y={1400} font={CAP_FONT}>(a) 压强</Txt>

      <Txt x={2017} y={568} rot><i>T</i>/K</Txt>
      <Txt x={2923} y={1294}>{XM}</Txt>
      <Txt x={2920} y={1398} font={CAP_FONT}>(b) 温度</Txt>

      <Txt x={127} y={2114} rot><i>r</i>/μm</Txt>
      <Txt x={1062} y={2828}>{XM}</Txt>
      <Txt x={1062} y={2944} font={CAP_FONT}>(c) 液滴半径</Txt>

      <Txt x={2090} y={2090} rot>{NLABEL}</Txt>
      <Txt x={2923} y={2828}>{XM}</Txt>
      <Txt x={2923} y={2944} font={CAP_FONT}>(d) 液滴数密度</Txt>

      <Txt x={824} y={653} rot><i>p</i>/MPa</Txt>
      <Txt x={1339} y={998}>{XM}</Txt>
      <Txt x={2935} y={2135} rot>{NLABEL}</Txt>
      <Txt x={3309} y={2461}>{XM}</Txt>
    </div>
  );
}
